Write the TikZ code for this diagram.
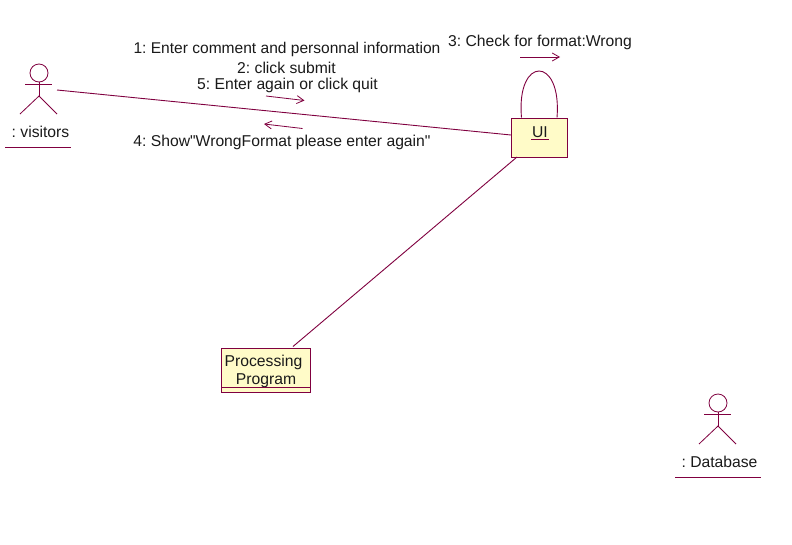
\documentclass[tikz,border=0pt]{standalone}
\usepackage{fontspec}
\newfontfamily\plainsans{Liberation Sans}
\usetikzlibrary{arrows.meta}
\definecolor{umlline}{HTML}{800040}
\definecolor{umlfill}{HTML}{FFFBC8}
\definecolor{umltext}{HTML}{1A1A1A}
\tikzset{
  x=1pt,y=-1pt,
  wire/.style={draw=umlline,line width=0.9pt},
  thin wire/.style={draw=umlline,line width=0.8pt},
  msg/.style={draw=umlline,line width=0.8pt,-{Straight Barb[length=7pt,width=8pt,line width=0.8pt]}},
  lbl/.style={inner sep=0pt,text=umltext,font=\plainsans\frenchspacing\fontsize{15.7}{18}\selectfont,anchor=center},
  objbox/.style={draw=umlline,fill=umlfill,line width=1pt,inner sep=0pt,anchor=north west},
}
\newcommand{\stickman}[2]{%
  \draw[thin wire] (#1,#2) circle[radius=9];
  \draw[thin wire] (#1-14,#2+11) -- (#1+13,#2+11);
  \draw[thin wire] (#1,#2+9) -- (#1,#2+23);
  \draw[thin wire] (#1-19,#2+41) -- (#1,#2+23) -- (#1+18,#2+41);
}
\begin{document}
\begin{tikzpicture}
\useasboundingbox (0,0) rectangle (792,544);
\fill[white] (0,0) rectangle (792,544);

% actors
\stickman{39}{73}
\node[lbl] (visitors) at (40.5,132) {: visitors};
\coordinate (vl) at (5,147.5);
\coordinate (vr) at (71,147.5);
\draw[thin wire] (vl) -- (vr);
\coordinate (visitorHand) at (57,90);

\stickman{718}{403}
\node[lbl] (database) at (719.5,461.5) {: Database};
\coordinate (dl) at (675,477.5);
\coordinate (dr) at (761,477.5);
\draw[thin wire] (dl) -- (dr);

% objects
\node[objbox,minimum width=56pt,minimum height=39pt] (ui) at (511,118) {};
\node[lbl] (uitext) at (540,132) {UI};
\coordinate (ul) at (531,139);
\coordinate (ur) at (549,139);
\draw[thin wire] (ul) -- (ur);

\node[objbox,minimum width=89pt,minimum height=44pt] (proc) at (221,348) {};
\node[lbl] (proc1) at (263.5,362.5) {Processing};
\node[lbl] (proc2) at (266,380.5) {Program};
\coordinate (pl) at (221,387);
\coordinate (pr) at (310,387);
\draw[thin wire] (pl) -- (pr);

% connectors
\coordinate (uiIn) at (511,135);
\coordinate (uiOut) at (517,157);
\coordinate (procIn) at (293,346.5);
\coordinate (loopA) at (521.5,117.5);
\coordinate (loopB) at (557,117.5);
\draw[wire] (visitorHand) -- (uiIn);
\draw[wire] (uiOut) -- (procIn);
\draw[wire] (loopA) .. controls (516,55.5) and (562,55.5) .. (loopB);

% message arrows
\coordinate (m1a) at (266,96);
\coordinate (m1b) at (304.5,100.5);
\coordinate (m2a) at (302.5,128.5);
\coordinate (m2b) at (264,124);
\coordinate (m3a) at (520,57);
\coordinate (m3b) at (560,57);
\draw[msg] (m1a) -- (m1b);
\draw[msg] (m2a) -- (m2b);
\draw[msg] (m3a) -- (m3b);

% message labels
\node[lbl,font=\plainsans\frenchspacing\fontsize{15.55}{18}\selectfont] (t1) at (287,49.5) {1: Enter comment and personnal information};
\node[lbl] (t2) at (286.5,67.5) {2: click submit};
\node[lbl] (t3) at (287.5,85.5) {5: Enter again or click quit};
\node[lbl] (t4) at (282,142.5) {4: Show"WrongFormat please enter again"};
\node[lbl] (t5) at (540,42.5) {3: Check for format:Wrong};
\end{tikzpicture}
\end{document}
